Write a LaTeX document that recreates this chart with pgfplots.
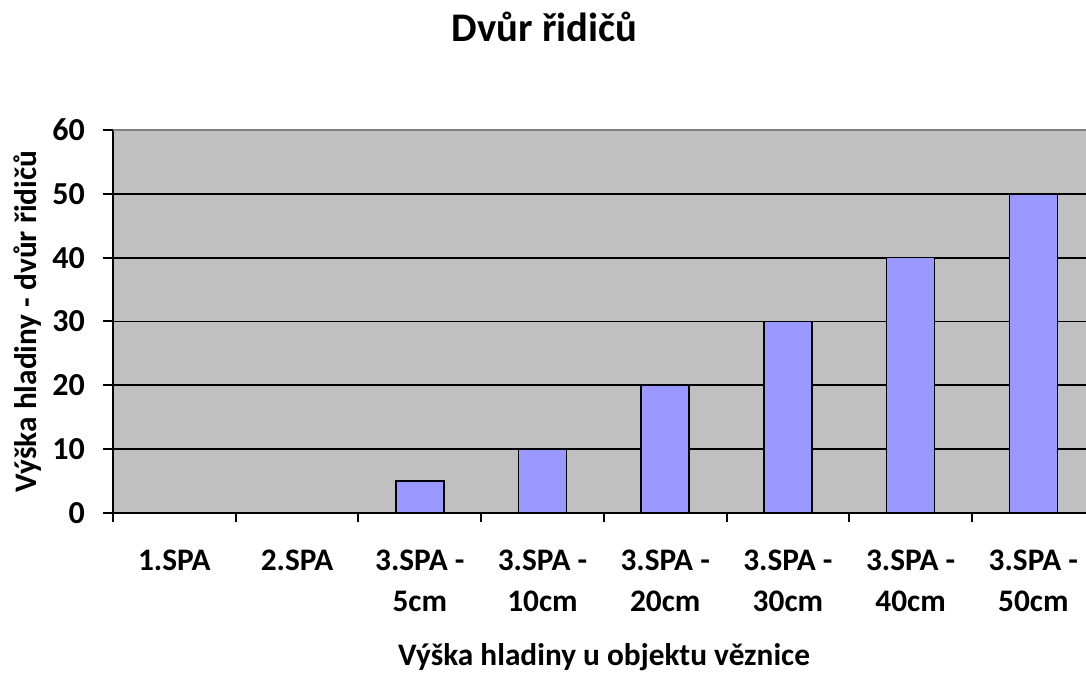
\documentclass[border=0pt]{standalone}
\usepackage{pgfplots}
\pgfplotsset{compat=1.18}
\usepackage{fontspec}
\setmainfont{Carlito}
\definecolor{plotbg}{HTML}{C0C0C0}
\definecolor{barfill}{HTML}{9999FF}
\definecolor{bordergray}{HTML}{808080}
\begin{document}
\begin{tikzpicture}
\path[use as bounding box] (-84.75pt,-120pt) rectangle (729.75pt,384.75pt);
\begin{axis}[
  at={(0pt,0pt)}, anchor=south west,
  scale only axis, width=729.75pt, height=287.25pt,
  xmin=-0.5, xmax=7.429, ymin=0, ymax=60,
  axis background/.style={fill=plotbg},
  axis x line*=bottom, axis y line*=left,
  axis line style={line width=1.5pt, black, -},
  tick align=outside,
  major tick length=7.5pt, minor tick length=7pt,
  tick style={line width=1.5pt, black},
  ytick={0,10,...,60},
  ymajorgrids, grid style={black, line width=1.3pt},
  xtick={0,...,7},
  xticklabels={1.SPA, 2.SPA, {3.SPA -\\5cm}, {3.SPA -\\10cm}, {3.SPA -\\20cm}, {3.SPA -\\30cm}, {3.SPA -\\40cm}, {3.SPA -\\50cm}},
  major x tick style={draw=none},
  minor xtick={-0.5,0.5,...,6.5},
  /pgf/number format/assume math mode=true,
  yticklabel style={font=\fontsize{24}{28}\selectfont\bfseries, inner sep=0pt, xshift=-13.5pt},
  xticklabel style={font=\fontsize{23.5}{30.75}\selectfont\bfseries, align=center, anchor=north, inner sep=0pt, yshift=-20pt},
  ybar, bar width=36pt,
  clip=false,
]
\addplot[fill=barfill, draw=black, line width=1.2pt] coordinates {(0,0) (1,0) (2,5) (3,10) (4,20) (5,30) (6,40) (7,50)};
\draw[bordergray, line width=2pt] (rel axis cs:0,1) -- (rel axis cs:1,1);
\end{axis}
\node[anchor=base, font=\fontsize{30.5}{36}\selectfont\bfseries] at (323.6pt,353.25pt) {Dvůr řidičů};
\node[anchor=base, font=\fontsize{23.5}{28}\selectfont\bfseries] at (368.25pt,-114.75pt) {Výška hladiny u objektu věznice};
\node[anchor=base, rotate=90, font=\fontsize{23.5}{28}\selectfont\bfseries] at (-57pt,143.6pt) {Výška hladiny - dvůr řidičů};
\end{tikzpicture}
\end{document}
